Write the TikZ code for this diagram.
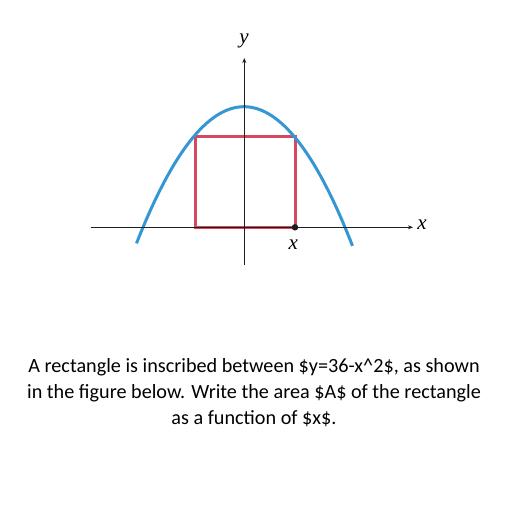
\documentclass[tikz,border=0pt]{standalone}
\usepackage{fontspec}
\setmainfont{Carlito}
\newfontfamily\lblfont{Liberation Serif}
\definecolor{curveblue}{RGB}{52,150,210}
\definecolor{rectred}{RGB}{214,72,92}
\definecolor{axisgray}{RGB}{30,30,30}
\usetikzlibrary{arrows.meta}
\begin{document}
\begin{tikzpicture}[x=1pt,y=-1pt,
  axisline/.style={draw=axisgray,line width=1pt,-{Stealth[length=5pt,width=4pt]}},
  curveline/.style={draw=curveblue,line width=3pt},
  rectline/.style={draw=rectred,line width=3pt},
  axlabel/.style={font=\lblfont\itshape\fontsize{21}{24}\selectfont,inner sep=0pt},
  bodytext/.style={font=\fontsize{20.2}{26}\selectfont,align=center,inner sep=0pt}]
\useasboundingbox (0,0) rectangle (512,512);
% rectangle
\draw[rectline] (195,227.3) rectangle (295,136.8);
% parabola
\draw[curveline,domain=-107.5:108.5,samples=80,smooth] plot ({244+\x},{106.7+120.6*(\x/101)^2});
% axes
\coordinate (xl) at (90.5,227.3);
\coordinate (xr) at (413,227.3);
\coordinate (yb) at (244.3,265);
\coordinate (yt) at (244.3,58);
\draw[axisline] (xl) -- (xr);
\draw[axisline] (yb) -- (yt);
\node[axlabel] (xlab) at (422,225) {x};
\node[axlabel] (ylab) at (244,41) {y};
\node[circle,fill=axisgray,inner sep=0pt,minimum size=6.5pt] (dot) at (295,227.3) {};
\node[axlabel] (xpt) at (293.3,245) {x};
\node[bodytext] (txt) at (254,393) {A rectangle is inscribed between \$y=36-x\textasciicircum2\$, as shown\\in the figure below. Write the area \$A\$ of the rectangle\\as a function of \$x\$.};
\end{tikzpicture}
\end{document}
